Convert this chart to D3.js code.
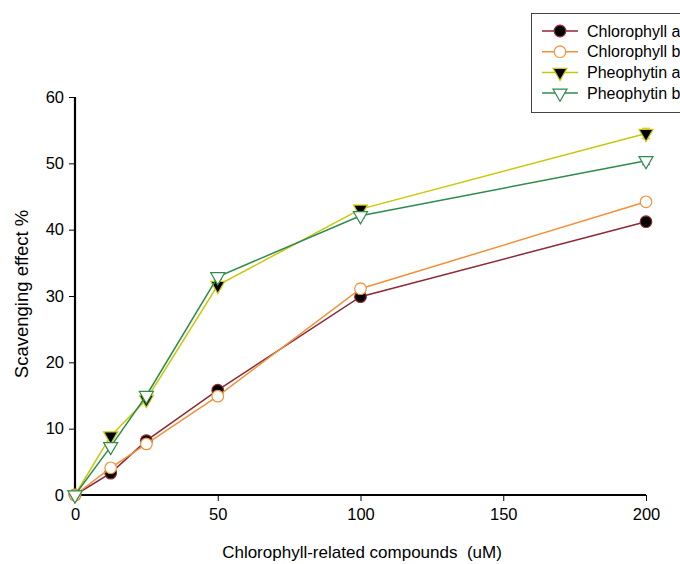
<!DOCTYPE html>
<html><head><meta charset="utf-8">
<script src="https://cdn.jsdelivr.net/npm/d3@7"></script>
<style>body{margin:0;background:#fff}svg{display:block}text{font-family:"Liberation Sans",Arial,sans-serif}</style>
</head><body><svg id="c" width="680" height="564"></svg>
<script>
const concentrations = [0, 12.5, 25, 50, 100, 200];
const seriesNames = ["Chlorophyll a", "Chlorophyll b", "Pheophytin a", "Pheophytin b"];
const chlorophyllA = [0, 3.3, 8.2, 15.8, 29.9, 41.2];
const chlorophyllB = [0, 4.1, 7.7, 14.9, 31.1, 44.2];
const pheophytinA = [0, 8.9, 14.4, 31.6, 43.1, 54.5];
const pheophytinB = [0, 7.3, 15.0, 32.9, 42.1, 50.4];
const errA = [0, 0.3, 0.3, 0.3, 0.4, 0.3];
const errB = [0, 0.3, 0.3, 0.3, 0.7, 0.3];
const errPA = [0, 0.3, 0.3, 0.4, 0.4, 0.8];
const errPB = [0, 0.3, 0.3, 0.4, 0.4, 0.6];
const xTicks = [0, 50, 100, 150, 200];
const yTicks = [0, 10, 20, 30, 40, 50, 60];

const svg = d3.select("#c");
const x = d3.scaleLinear().domain([0, 200]).range([75, 646]);
const y = d3.scaleLinear().domain([0, 60]).range([495, 97]);

const series = [
  {name: seriesNames[0], vals: chlorophyllA, err: errA, color: "#8b2a35", shape: "circle", fill: "#000", stroke: "#8b2a35"},
  {name: seriesNames[1], vals: chlorophyllB, err: errB, color: "#f29038", shape: "circle", fill: "#fff", stroke: "#f29038"},
  {name: seriesNames[2], vals: pheophytinA, err: errPA, color: "#c8c80a", shape: "tri", fill: "#000", stroke: "#c8c80a"},
  {name: seriesNames[3], vals: pheophytinB, err: errPB, color: "#2e8b4e", shape: "tri", fill: "#fff", stroke: "#2e8b4e"}
];

// axes
const yAxis = d3.axisLeft(y).tickValues(yTicks).tickSize(6).tickPadding(5);
const xAxis = d3.axisBottom(x).tickValues(xTicks).tickSize(6).tickPadding(7);
const gy = svg.append("g").attr("transform", `translate(${x(0)},0)`).call(yAxis);
const gx = svg.append("g").attr("transform", `translate(0,${y(0)})`).call(xAxis);
[gx, gy].forEach(g => {
  g.select(".domain").attr("stroke", "#000").attr("stroke-width", 2.2);
  g.selectAll(".tick line").attr("stroke", "#000").attr("stroke-width", 1);
  g.selectAll(".tick text").attr("font-size", 16.5).attr("fill", "#000").attr("font-family", "Liberation Sans, Arial, sans-serif");
});
gx.select(".domain").attr("d", `M${x(0)},0H${x(200)}`);
gy.select(".domain").attr("d", `M0,${y(60)}V${y(0)}`);

// titles
svg.append("text").attr("x", 362).attr("y", 558).attr("text-anchor", "middle").attr("font-size", 17).text("Chlorophyll-related compounds \u00a0(uM)");
svg.append("text").attr("transform", `translate(28,294) rotate(-90)`).attr("text-anchor", "middle").attr("font-size", 18.5).text("Scavenging effect %");

const tri = d3.symbol().type(d3.symbolTriangle).size(85);
function drawMarker(g, s, cx, cy) {
  if (s.shape === "circle") {
    g.append("circle").attr("cx", cx).attr("cy", cy).attr("r", 5.8).attr("fill", s.fill).attr("stroke", s.stroke).attr("stroke-width", 1.2);
  } else {
    g.append("path").attr("d", tri).attr("transform", `translate(${cx},${cy}) rotate(180)`).attr("fill", s.fill).attr("stroke", s.stroke).attr("stroke-width", 1.2);
  }
}

const line = d3.line().x((d, i) => x(concentrations[i])).y(d => y(d));
series.forEach(s => {
  const g = svg.append("g");
  g.append("path").attr("d", line(s.vals)).attr("fill", "none").attr("stroke", s.color).attr("stroke-width", 1.5);
  s.vals.forEach((v, i) => {
    const e = s.err[i];
    if (e > 0) {
      const cx = x(concentrations[i]);
      g.append("path").attr("d", `M${cx},${y(v - e)}V${y(v + e)}M${cx - 4},${y(v + e)}H${cx + 4}M${cx - 4},${y(v - e)}H${cx + 4}`).attr("stroke", s.color).attr("stroke-width", 1);
    }
  });
  s.vals.forEach((v, i) => drawMarker(g, s, x(concentrations[i]), y(v)));
});

// legend
const lg = svg.append("g");
lg.append("rect").attr("x", 531.5).attr("y", 13.5).attr("width", 160).attr("height", 99).attr("fill", "#fff").attr("stroke", "#444").attr("stroke-width", 1);
series.forEach((s, i) => {
  const ly = 31 + i * 20.7;
  lg.append("line").attr("x1", 542).attr("x2", 578).attr("y1", ly).attr("y2", ly).attr("stroke", s.color).attr("stroke-width", 1.5);
  drawMarker(lg, s, 560, ly);
  lg.append("text").attr("x", 587).attr("y", ly + 5.5).attr("font-size", 16).text(s.name);
});
</script></body></html>
